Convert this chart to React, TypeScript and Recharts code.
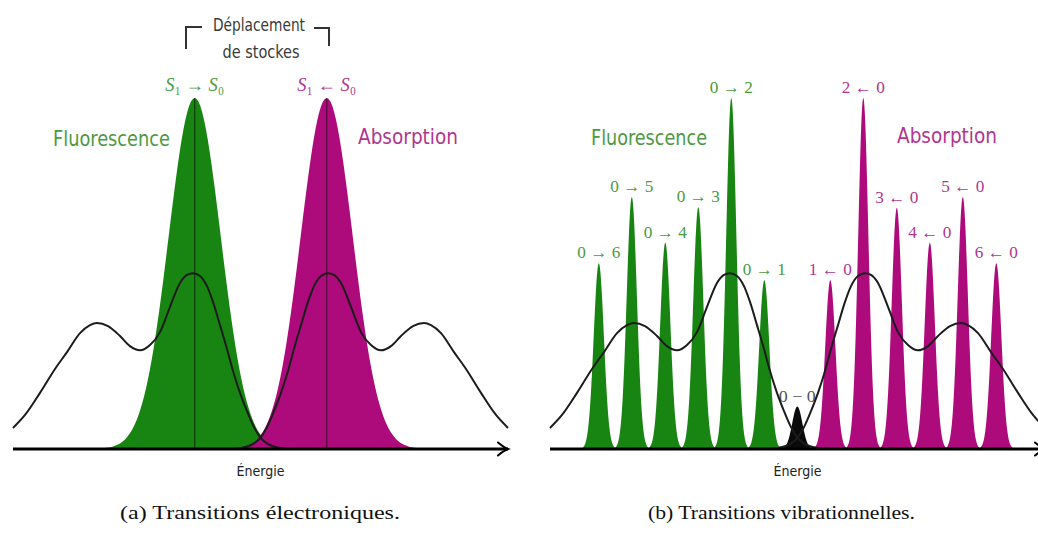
import React from 'react';
import { ComposedChart, Bar, Line, XAxis, YAxis, Label } from 'recharts';

// ---------- Panel (a): electronic transitions ----------
const electronicCenters = [36.3, 62.7];
const electronicHeights = [100, 100];
const electronicKinds = ['fluo', 'abs'];
const electronicLabels = ['S₁ → S₀', 'S₁ ← S₀'];

// ---------- Panel (b): vibrational transitions ----------
const vibCenters = [9.8, 16.4, 23.1, 29.7, 36.3, 42.9, 49.5, 56.1, 62.7, 69.4, 76.0, 82.6, 89.3];
const vibHeights = [52.9, 71.8, 58.8, 68.9, 100, 48.1, 12.1, 48.1, 100, 68.7, 58.8, 71.8, 52.9];
const vibKinds = ['fluo', 'fluo', 'fluo', 'fluo', 'fluo', 'fluo', 'zero', 'abs', 'abs', 'abs', 'abs', 'abs', 'abs'];
const vibLabels = ['0 → 6', '0 → 5', '0 → 4', '0 → 3', '0 → 2', '0 → 1', '0 − 0', '1 ← 0', '2 ← 0', '3 ← 0', '4 ← 0', '5 ← 0', '6 ← 0'];

// ---------- Envelopes (black curves, same in both panels) ----------
const fluoEnvX = [0, 2.4, 5.4, 8.4, 10.8, 13.4, 15.4, 16.8, 19, 21.4, 23.4, 25.4, 27.4, 29.4, 31.4, 33.4, 34.8, 36, 37.4, 38.8, 40, 41.4, 42.8, 44, 45.4, 46.8, 48, 49.4, 50.8, 52, 53.4, 55.4];
const fluoEnvY = [6.0, 9.7, 16.0, 22.8, 27.6, 33.0, 35.3, 35.9, 35.0, 32.2, 29.3, 28.1, 29.6, 33.3, 40.5, 47.3, 49.6, 50.1, 49.3, 46.4, 41.9, 35.3, 28.5, 22.2, 16.0, 10.8, 6.8, 3.4, 1.6, 0.8, 0.3, 0];
const absEnvX = [43.6, 45.6, 47, 48.2, 49.6, 51, 52.2, 53.6, 55, 56.2, 57.6, 59, 60.2, 61.6, 63, 64.2, 65.6, 67.6, 69.6, 71.6, 73.6, 75.6, 77.6, 80, 82.2, 83.6, 85.6, 88.2, 90.6, 93.6, 96.6, 99];
const absEnvY = [0, 0.3, 0.8, 1.6, 3.4, 6.8, 10.8, 16.0, 22.2, 28.5, 35.3, 41.9, 46.4, 49.3, 50.1, 49.6, 47.3, 40.5, 33.3, 29.6, 28.1, 29.3, 32.2, 35.0, 35.9, 35.3, 33.0, 27.6, 22.8, 16.0, 9.7, 6.0];

// ---------- Text ----------
const panelTitles = ['Fluorescence', 'Absorption'];
const captions = ['(a) Transitions électroniques.', '(b) Transitions vibrationnelles.'];
const axisTitle = 'Énergie';
const stokesLines = ['Déplacement', 'de stockes'];

// ---------- Styles ----------
const GREEN = '#188512';
const MAGENTA = '#ad0a7c';
const ZERO = '#0a0a0a';
const GREEN_TEXT = '#4c9a42';
const MAGENTA_TEXT = '#b0368f';
const SERIF = "'Liberation Serif','DejaVu Serif','Times New Roman',serif";
const SANS_N = "'Liberation Sans Narrow','DejaVu Sans Condensed','Liberation Sans','DejaVu Sans',sans-serif";

const fillFor = (k: string) => (k === 'fluo' ? GREEN : k === 'abs' ? MAGENTA : ZERO);
const textFor = (k: string) => (k === 'fluo' ? GREEN_TEXT : k === 'abs' ? MAGENTA_TEXT : '#555');

const electronicRows = electronicCenters.map((x, i) => ({ x, h: electronicHeights[i], kind: electronicKinds[i], label: electronicLabels[i] }));
const vibRows = vibCenters.map((x, i) => ({ x, h: vibHeights[i], kind: vibKinds[i], label: vibLabels[i] }));
const fluoEnv = fluoEnvX.map((x, i) => ({ x, y: fluoEnvY[i] }));
const absEnv = absEnvX.map((x, i) => ({ x, y: absEnvY[i] }));

type ShapeCfg = { sigma: number; centerLine: boolean; fontSize: number; labelLen: number; zeroLen: number; gap: number; rows: any[] };

function renderLabelText(label: string) {
  const parts: React.ReactNode[] = [];
  label.split('').forEach((c, i) => {
    if (c === 'S') parts.push(<tspan key={i} fontStyle="italic">{c}</tspan>);
    else parts.push(<tspan key={i}>{c}</tspan>);
  });
  return parts;
}

function makeGaussShape(cfg: ShapeCfg) {
  return (props: any) => {
    const { x, y, width, height, index } = props;
    const row = (props.payload && props.payload.kind) ? props.payload : cfg.rows[index];
    if (!(height > 0) || row == null) return <g />;
    const cx = x + width / 2;
    const base = y + height;
    const span = 3.6;
    const n = 100;
    const s = cfg.sigma;
    let d = `M${(cx - span * s).toFixed(2)},${base}`;
    for (let i = 0; i <= n; i++) {
      const t = -span + (2 * span * i) / n;
      d += ` L${(cx + t * s).toFixed(2)},${(base - height * Math.exp((-t * t) / 2)).toFixed(2)}`;
    }
    d += ` L${(cx + span * s).toFixed(2)},${base} Z`;
    const len = row.kind === 'zero' ? cfg.zeroLen : cfg.labelLen;
    return (
      <g>
        <path d={d} fill={fillFor(row.kind)} />
        {cfg.centerLine && (
          <line x1={cx} x2={cx} y1={y} y2={base} stroke="#000" strokeOpacity={0.55} strokeWidth={1.2} />
        )}
        <text
          x={cx}
          y={y - cfg.gap}
          textAnchor="middle"
          fontFamily={SERIF}
          fontSize={cfg.fontSize}
          fill={textFor(row.kind)}
          textLength={len}
          lengthAdjust="spacingAndGlyphs"
        >
          {renderLabelText(row.label)}
        </text>
      </g>
    );
  };
}

const EnergyLabel = (props: any) => {
  const vb = props.viewBox || {};
  return (
    <text
      x={vb.x + vb.width / 2}
      y={vb.y + 27}
      textAnchor="middle"
      fontFamily={SANS_N}
      fontSize={14}
      fill="#222"
      textLength={48}
      lengthAdjust="spacingAndGlyphs"
    >
      {axisTitle}
    </text>
  );
};

const CHART_W = 520;
const CHART_H = 500;
const MARGIN = { top: 98, right: 12, bottom: 21, left: 13 };

function Panel({ rows, cfg }: { rows: any[]; cfg: ShapeCfg }) {
  return (
    <ComposedChart width={CHART_W} height={CHART_H} data={rows} margin={MARGIN}>
      <XAxis xAxisId="env" dataKey="x" type="number" domain={[0, 99]} hide />
      <YAxis type="number" domain={[0, 100]} hide />
      <Bar
        xAxisId="bars"
        dataKey="h"
        isAnimationActive={false}
        shape={makeGaussShape(cfg)}
      />
      <Line
        xAxisId="env"
        data={fluoEnv}
        dataKey="y"
        type="monotone"
        stroke="#1c1c1c"
        strokeWidth={2}
        dot={false}
        activeDot={false}
        isAnimationActive={false}
      />
      <Line
        xAxisId="env"
        data={absEnv}
        dataKey="y"
        type="monotone"
        stroke="#1c1c1c"
        strokeWidth={2}
        dot={false}
        activeDot={false}
        isAnimationActive={false}
      />
      <XAxis
        xAxisId="bars"
        dataKey="x"
        type="number"
        domain={[0, 99]}
        ticks={[0, 99]}
        tickCount={2}
        tick={false}
        tickLine={false}
        height={30}
        axisLine={{ stroke: '#000', strokeWidth: 3, markerEnd: 'url(#arrowHead)' }}
        label={<Label content={EnergyLabel} />}
      />
    </ComposedChart>
  );
}

const T = ({ x, y, len, size, family, fill, children }: any) => (
  <text x={x} y={y} textAnchor="middle" fontSize={size} fontFamily={family} fill={fill} textLength={len} lengthAdjust="spacingAndGlyphs">
    {children}
  </text>
);

export default function App() {
  const leftCfg: ShapeCfg = { sigma: 26, centerLine: true, fontSize: 18, labelLen: 59, zeroLen: 59, gap: 7, rows: electronicRows };
  const rightCfg: ShapeCfg = { sigma: 5.1, centerLine: false, fontSize: 17, labelLen: 43, zeroLen: 37, gap: 5, rows: vibRows };
  return (
    <div style={{ position: 'fixed', left: 0, top: 0, width: 1038, height: 535, overflow: 'hidden', background: '#fff' }}>
      <div style={{ position: 'absolute', left: 0, top: 0 }}>
        <Panel rows={electronicRows} cfg={leftCfg} />
      </div>
      <div style={{ position: 'absolute', left: 537, top: 0 }}>
        <Panel rows={vibRows} cfg={rightCfg} />
      </div>
      <svg width={1038} height={535} style={{ position: 'absolute', left: 0, top: 0, pointerEvents: 'none' }}>
        <defs>
          <marker id="arrowHead" markerUnits="userSpaceOnUse" markerWidth={16} markerHeight={16} viewBox="-13 -8 16 16" refX={0} refY={0} orient="auto">
            <path d="M-10,-6.5 Q-4,-1.5 0,0 Q-4,1.5 -10,6.5" fill="none" stroke="#000" strokeWidth={2} strokeLinecap="round" />
          </marker>
        </defs>
        {/* Stokes shift */}
        <T x={259} y={31} len={92} size={18} family={SANS_N} fill="#3a3a3a">{stokesLines[0]}</T>
        <T x={261} y={58} len={77} size={18} family={SANS_N} fill="#3a3a3a">{stokesLines[1]}</T>
        <polyline points="186,49 186,27 202,27" fill="none" stroke="#333" strokeWidth={2} />
        <polyline points="314,28 329,28 329,46" fill="none" stroke="#333" strokeWidth={2} />
        {/* Titles */}
        <T x={111.5} y={146} len={117} size={22} family={SANS_N} fill={GREEN_TEXT}>{panelTitles[0]}</T>
        <T x={408} y={144} len={100} size={22} family={SANS_N} fill={MAGENTA_TEXT}>{panelTitles[1]}</T>
        <T x={649} y={145} len={116} size={22} family={SANS_N} fill={GREEN_TEXT}>{panelTitles[0]}</T>
        <T x={947} y={143} len={100} size={22} family={SANS_N} fill={MAGENTA_TEXT}>{panelTitles[1]}</T>
        {/* Captions */}
        <T x={260} y={519} len={280} size={19} family={SERIF} fill="#111">{captions[0]}</T>
        <T x={781.5} y={519} len={267} size={19} family={SERIF} fill="#111">{captions[1]}</T>
      </svg>
    </div>
  );
}
